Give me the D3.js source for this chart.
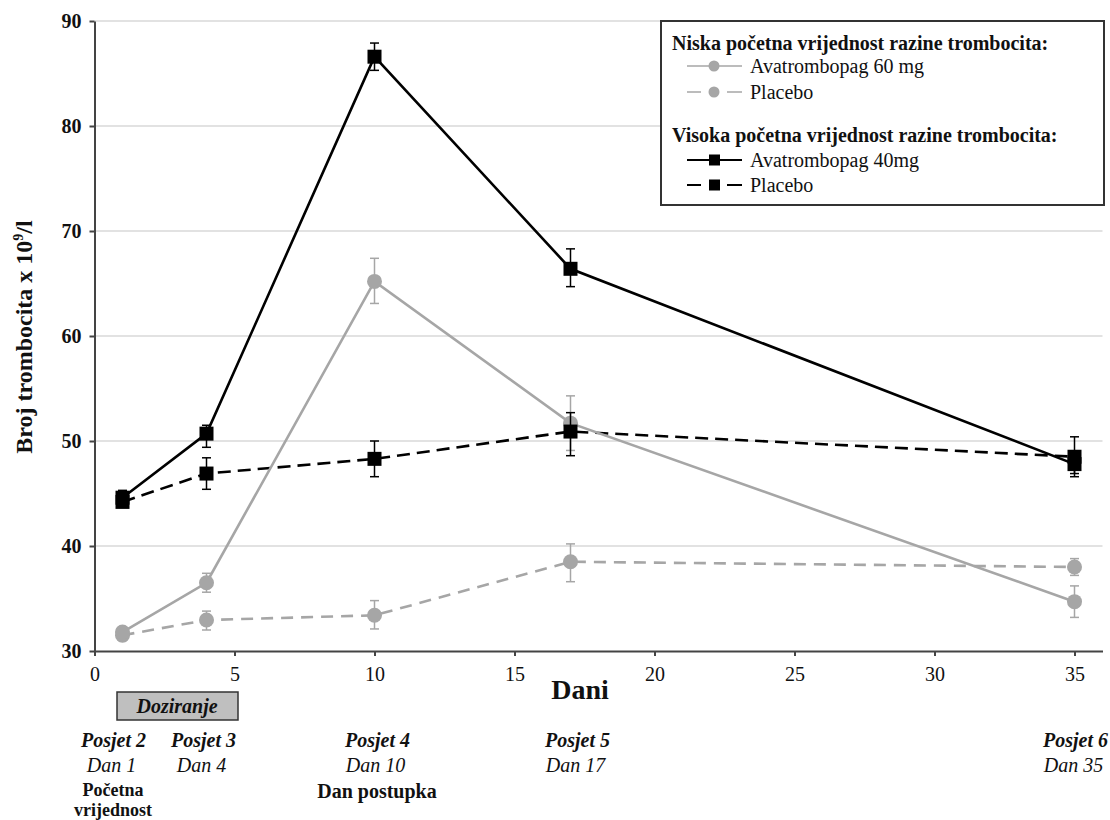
<!DOCTYPE html>
<html>
<head>
<meta charset="utf-8">
<script src="https://cdn.jsdelivr.net/npm/d3@7"></script>
<style>
  body { margin: 0; background: #fff; }
  svg text { font-family: "Liberation Serif", Tinos, "Times New Roman", Times, "DejaVu Serif", serif !important; fill: #111; }
</style>
</head>
<body>
<div id="chart"></div>
<script>
// data
var days = [1, 4, 10, 17, 35];

var high40 = [44.6, 50.7, 86.6, 66.4, 47.8];
var high40Lo = [44.0, 49.4, 85.3, 64.7, 46.9];
var high40Hi = [45.3, 51.5, 87.9, 68.3, 48.7];

var highPbo = [44.2, 46.9, 48.3, 50.9, 48.5];
var highPboLo = [43.8, 45.4, 46.6, 48.6, 46.6];
var highPboHi = [44.6, 48.4, 50.0, 52.7, 50.4];

var low60 = [31.8, 36.5, 65.2, 51.7, 34.7];
var low60Lo = [31.3, 35.6, 63.1, 49.1, 33.2];
var low60Hi = [32.3, 37.4, 67.4, 54.3, 36.2];

var lowPbo = [31.5, 32.95, 33.4, 38.5, 38.0];
var lowPboLo = [31.0, 32.0, 32.1, 36.6, 37.2];
var lowPboHi = [32.0, 33.8, 34.8, 40.2, 38.8];

var xTicks = [0, 5, 10, 15, 20, 25, 30, 35];
var yTicks = [30, 40, 50, 60, 70, 80, 90];

var visitLabels = ["Posjet 2", "Posjet 3", "Posjet 4", "Posjet 5", "Posjet 6"];
var dayLabels = ["Dan 1", "Dan 4", "Dan 10", "Dan 17", "Dan 35"];

var gray = "#a6a6a6";
var serif = '"Liberation Serif", Tinos, "Times New Roman", Times, "DejaVu Serif", serif';

var width = 1110, height = 820;

var svg = d3.select("#chart")
    .append("svg")
        .attr("width", width)
        .attr("height", height)
        .attr("font-family", serif);

var x = d3.scaleLinear()
    .domain([0, 36])
    .range([94.5, 1102.5]);

var y = d3.scaleLinear()
    .domain([30, 90])
    .range([651, 21]);

// gridlines
svg.append("g")
  .selectAll("line")
  .data(yTicks.slice(1))
  .enter()
  .append("line")
    .attr("x1", x(0))
    .attr("x2", x(36))
    .attr("y1", function(d) { return y(d); })
    .attr("y2", function(d) { return y(d); })
    .style("stroke", "#d9d9d9")
    .style("stroke-width", 1.5);

// axes
var xAxis = svg.append("g")
    .attr("transform", "translate(0," + y(30) + ")")
    .call(d3.axisBottom(x).tickValues(xTicks).tickSize(5).tickSizeOuter(0).tickPadding(11));
xAxis.attr("font-family", serif);
xAxis.selectAll("text")
    .style("font-size", "20px");

var yAxis = svg.append("g")
    .attr("transform", "translate(" + x(0) + ",0)")
    .call(d3.axisLeft(y).tickValues(yTicks).tickSize(5).tickSizeOuter(0).tickPadding(8));
yAxis.attr("font-family", serif);
yAxis.selectAll("text")
    .style("font-size", "20px")
    .style("font-weight", "bold");

svg.selectAll(".domain, .tick line")
    .style("stroke", "#444")
    .style("stroke-width", 2);

// series
var series = [
  { v: highPbo, lo: highPboLo, hi: highPboHi, color: "#000", dash: "13,7", shape: "square" },
  { v: high40, lo: high40Lo, hi: high40Hi, color: "#000", dash: null, shape: "square" },
  { v: lowPbo, lo: lowPboLo, hi: lowPboHi, color: gray, dash: "12,8", shape: "circle" },
  { v: low60, lo: low60Lo, hi: low60Hi, color: gray, dash: null, shape: "circle" }
];

var line = d3.line()
    .x(function(d) { return x(d[0]); })
    .y(function(d) { return y(d[1]); });

series.forEach(function(s) {
  var pts = days.map(function(d, i) { return [d, s.v[i]]; });
  svg.append("path")
      .datum(pts)
      .attr("d", line)
      .style("fill", "none")
      .style("stroke", s.color)
      .style("stroke-width", 2.6)
      .style("stroke-dasharray", s.dash);
});

// error bars + markers, gray first so black squares sit on top
[series[2], series[3], series[0], series[1]].forEach(function(s) {
  var g = svg.append("g");
  days.forEach(function(d, i) {
    var cx = x(d);
    g.append("line")
        .attr("x1", cx).attr("x2", cx)
        .attr("y1", y(s.lo[i])).attr("y2", y(s.hi[i]))
        .style("stroke", s.color).style("stroke-width", 1.5);
    [s.lo[i], s.hi[i]].forEach(function(e) {
      g.append("line")
          .attr("x1", cx - 4.5).attr("x2", cx + 4.5)
          .attr("y1", y(e)).attr("y2", y(e))
          .style("stroke", s.color).style("stroke-width", 1.5);
    });
    if (s.shape == "square") {
      g.append("rect")
          .attr("x", cx - 7).attr("y", y(s.v[i]) - 7)
          .attr("width", 14).attr("height", 14)
          .style("fill", "#000");
    } else {
      g.append("circle")
          .attr("cx", cx).attr("cy", y(s.v[i]))
          .attr("r", 7.5)
          .style("fill", gray);
    }
  });
});

// legend
var lg = svg.append("g");
lg.append("rect")
    .attr("x", 661).attr("y", 21)
    .attr("width", 443).attr("height", 184)
    .style("fill", "#fff")
    .style("stroke", "#333")
    .style("stroke-width", 2);

var legendRows = [
  { t: "Niska početna vrijednost razine trombocita:", head: true, y: 43 },
  { t: "Avatrombopag 60 mg", color: gray, dashed: false, shape: "circle", y: 66 },
  { t: "Placebo", color: gray, dashed: true, shape: "circle", y: 92 },
  { t: "Visoka početna vrijednost razine trombocita:", head: true, y: 135 },
  { t: "Avatrombopag 40mg", color: "#000", dashed: false, shape: "square", y: 160 },
  { t: "Placebo", color: "#000", dashed: true, shape: "square", y: 185 }
];

legendRows.forEach(function(r) {
  if (r.head) {
    lg.append("text")
        .attr("x", 672).attr("y", r.y)
        .attr("dy", "0.33em")
        .style("font-size", "20px")
        .style("font-weight", "bold")
        .text(r.t);
    return;
  }
  var segs = r.dashed ? [[687, 701], [727, 742]] : [[687, 742]];
  segs.forEach(function(sg) {
    lg.append("line")
        .attr("x1", sg[0]).attr("x2", sg[1])
        .attr("y1", r.y).attr("y2", r.y)
        .style("stroke", r.color)
        .style("stroke-width", r.shape == "square" ? 2 : 1.5);
  });
  if (r.shape == "square") {
    lg.append("rect")
        .attr("x", 709).attr("y", r.y - 5.5)
        .attr("width", 11).attr("height", 11)
        .style("fill", "#000");
  } else {
    lg.append("circle")
        .attr("cx", 714).attr("cy", r.y).attr("r", 5.5)
        .style("fill", gray);
  }
  lg.append("text")
      .attr("x", 750).attr("y", r.y)
      .attr("dy", "0.33em")
      .style("font-size", "20px")
      .text(r.t);
});

// axis titles
var yTitle = svg.append("text")
    .attr("transform", "translate(32,337) rotate(-90)")
    .attr("text-anchor", "middle")
    .style("font-size", "24px")
    .style("font-weight", "bold");
yTitle.append("tspan").text("Broj trombocita x 10");
yTitle.append("tspan").attr("dy", -9).style("font-size", "14px").text("9");
yTitle.append("tspan").attr("dy", 9).text("/l");

svg.append("text")
    .attr("x", 580).attr("y", 689)
    .attr("dy", "0.35em")
    .attr("text-anchor", "middle")
    .style("font-size", "28px")
    .style("font-weight", "bold")
    .text("Dani");

// dosing box
svg.append("rect")
    .attr("x", 117).attr("y", 692)
    .attr("width", 121).attr("height", 28)
    .style("fill", "#bfbfbf")
    .style("stroke", "#333")
    .style("stroke-width", 1.5);
svg.append("text")
    .attr("x", 177).attr("y", 706)
    .attr("dy", "0.33em")
    .attr("text-anchor", "middle")
    .style("font-size", "20px")
    .style("font-weight", "bold")
    .style("font-style", "italic")
    .text("Doziranje");

// visit labels under the axis
var nudge = [-9, -3, 3, 7, 1];
days.forEach(function(d, i) {
  svg.append("text")
      .attr("x", x(d) + nudge[i]).attr("y", 740)
      .attr("dy", "0.33em")
      .attr("text-anchor", "middle")
      .style("font-size", "20px")
      .style("font-weight", "bold")
      .style("font-style", "italic")
      .text(visitLabels[i]);
  svg.append("text")
      .attr("x", x(d) + nudge[i] - 2).attr("y", 765)
      .attr("dy", "0.33em")
      .attr("text-anchor", "middle")
      .style("font-size", "20px")
      .style("font-style", "italic")
      .text(dayLabels[i]);
});

svg.append("text")
    .attr("x", 113).attr("y", 790)
    .attr("dy", "0.33em")
    .attr("text-anchor", "middle")
    .style("font-size", "18px")
    .style("font-weight", "bold")
    .text("Početna");
svg.append("text")
    .attr("x", 113).attr("y", 810)
    .attr("dy", "0.33em")
    .attr("text-anchor", "middle")
    .style("font-size", "18px")
    .style("font-weight", "bold")
    .text("vrijednost");
svg.append("text")
    .attr("x", 377).attr("y", 791)
    .attr("dy", "0.33em")
    .attr("text-anchor", "middle")
    .style("font-size", "20px")
    .style("font-weight", "bold")
    .text("Dan postupka");
</script>
</body>
</html>
